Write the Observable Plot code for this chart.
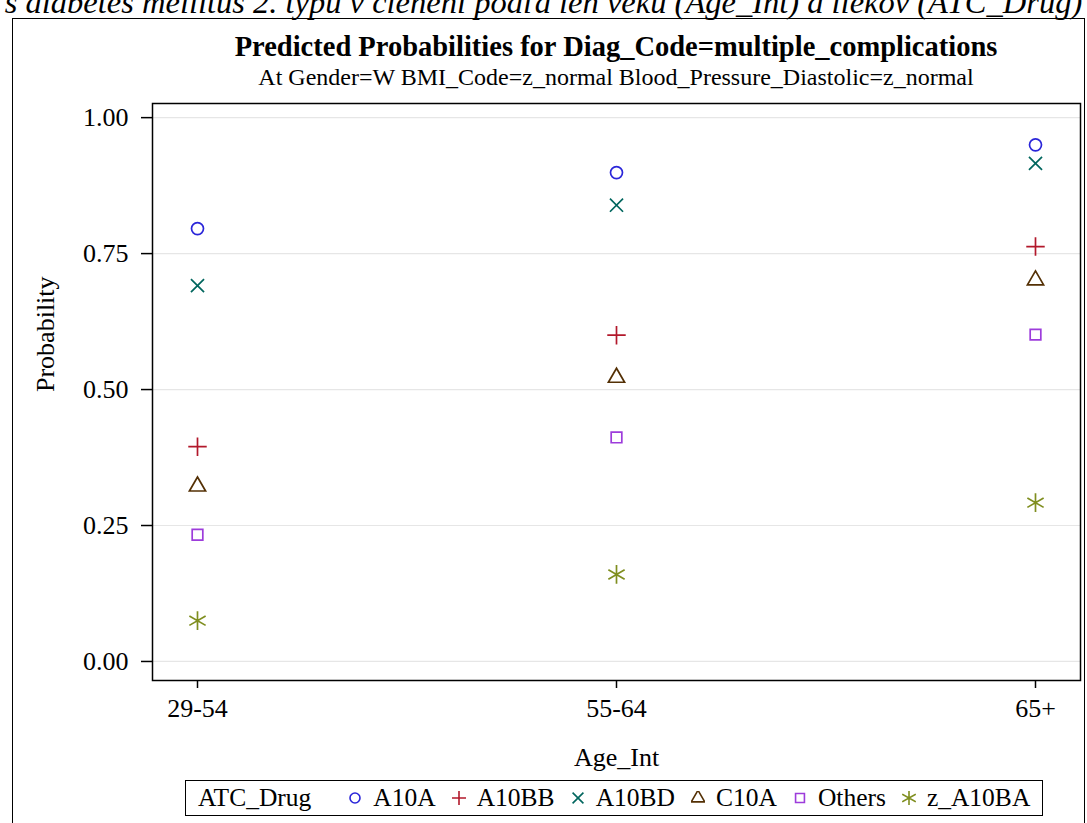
<!DOCTYPE html>
<html>
<head>
<meta charset="utf-8">
<script src="https://cdn.jsdelivr.net/npm/d3@7"></script>
<script src="https://cdn.jsdelivr.net/npm/@observablehq/plot@0.6"></script>
<style>
  html, body { margin: 0; padding: 0; background: #fff; overflow: hidden; }
  body { width: 1087px; height: 823px; position: relative; font-family: "Liberation Serif", "DejaVu Serif", serif; }
  #top { position: absolute; left: 0; top: -16px; width: 1087px; text-align: center; font-style: italic; font-size: 32.5px; white-space: nowrap; line-height: 1.15; }
  #box { position: absolute; left: 12px; top: 18px; width: 1073px; height: 830px; border: 1.5px solid #000; box-sizing: border-box; }
  #title { position: absolute; left: 152px; width: 928px; top: 31px; text-align: center; font-weight: bold; font-size: 28.5px; line-height: 1.15; }
  #subtitle { position: absolute; left: 152px; width: 928px; top: 64px; text-align: center; font-size: 24px; line-height: 1.15; }
  #chart { position: absolute; left: 0; top: 90px; }
  #legend { position: absolute; left: 185px; top: 780px; width: 858px; height: 36px; border: 1.5px solid #000; box-sizing: border-box; font-size: 25.5px; display: flex; align-items: center; white-space: nowrap; }
  #legend .ttl { margin-left: 12px; margin-right: 37px; }
  #legend .it { display: inline-flex; align-items: center; margin-right: 16px; }
  #legend svg { margin-right: 11px; }
</style>
</head>
<body>
<div id="top">s diabetes mellitus 2. typu v členení podľa len veku (Age_Int) a liekov (ATC_Drug)</div>
<div id="box"></div>
<div id="title">Predicted Probabilities for Diag_Code=multiple_complications</div>
<div id="subtitle">At Gender=W BMI_Code=z_normal Blood_Pressure_Diastolic=z_normal</div>
<div id="chart"></div>
<div id="legend"></div>
<script>
const ageGroups = ["29-54", "55-64", "65+"];
const drugs = ["A10A", "A10BB", "A10BD", "C10A", "Others", "z_A10BA"];
const A10A    = [0.796, 0.899, 0.950];
const A10BB   = [0.395, 0.600, 0.763];
const A10BD   = [0.691, 0.839, 0.916];
const C10A    = [0.322, 0.522, 0.701];
const Others  = [0.233, 0.412, 0.601];
const z_A10BA = [0.075, 0.160, 0.292];
const yTicks = [0, 0.25, 0.5, 0.75, 1];

const drugColors = ["#2A25D9", "#B2182B", "#01665E", "#543005", "#9D3CDB", "#7F8E1F"];
const bigAsterisk = {draw(ctx, size) { d3.symbolAsterisk.draw(ctx, size * 2.2); }};
const drugSymbols = [d3.symbolCircle, d3.symbolPlus, d3.symbolTimes, d3.symbolTriangle, d3.symbolSquare, bigAsterisk];

const seriesVals = [A10A, A10BB, A10BD, C10A, Others, z_A10BA];
const data = [];
drugs.forEach((d, i) => ageGroups.forEach((a, j) => data.push({drug: d, age: a, p: seriesVals[i][j]})));

const chart = Plot.plot({
  width: 1087,
  height: 690,
  marginLeft: 152,
  marginRight: 7,
  marginTop: 13,
  marginBottom: 100,
  style: {fontFamily: "Liberation Serif, serif", fontSize: "26px", color: "#000", background: "transparent"},
  x: {type: "point", domain: ageGroups, padding: 0.107, label: null},
  y: {domain: [-0.035, 1.026], label: null},
  color: {domain: drugs, range: drugColors},
  symbol: {domain: drugs, range: drugSymbols},
  marks: [
    Plot.gridY(yTicks, {stroke: "#e6e6e6", strokeOpacity: 1, strokeWidth: 1.2}),
    Plot.frame({stroke: "#000", strokeWidth: 1.5}),
    Plot.axisY(yTicks, {tickFormat: d3.format(".2f"), tickSize: 11, tickPadding: 13, strokeWidth: 1.5, fontSize: 26, label: null}),
    Plot.axisX(ageGroups, {tickSize: 8, tickPadding: 10, strokeWidth: 1.5, fontSize: 26, label: null}),
    Plot.text(["Age_Int"], {frameAnchor: "bottom", dy: 85, fontSize: 26}),
    Plot.text(["Probability"], {frameAnchor: "left", dx: -107, rotate: -90, fontSize: 26}),
    Plot.dot(data, {x: "age", y: "p", stroke: "drug", symbol: "drug", fill: "none", r: 6, strokeWidth: 1.7})
  ]
});
document.getElementById("chart").appendChild(chart);

// Legend built from the same scales
const leg = document.getElementById("legend");
const t = document.createElement("span"); t.className = "ttl"; t.textContent = "ATC_Drug"; leg.appendChild(t);
drugs.forEach((d, i) => {
  const it = document.createElement("span"); it.className = "it";
  const s = d3.create("svg").attr("width", 14).attr("height", 14).attr("viewBox", "-7 -7 14 14");
  s.append("path").attr("d", d3.symbol(drugSymbols[i], 5 * 5 * Math.PI)()).attr("fill", "none").attr("stroke", drugColors[i]).attr("stroke-width", 1.6);
  it.appendChild(s.node());
  const tx = document.createElement("span"); tx.textContent = d; it.appendChild(tx);
  leg.appendChild(it);
});
</script>
</body>
</html>
